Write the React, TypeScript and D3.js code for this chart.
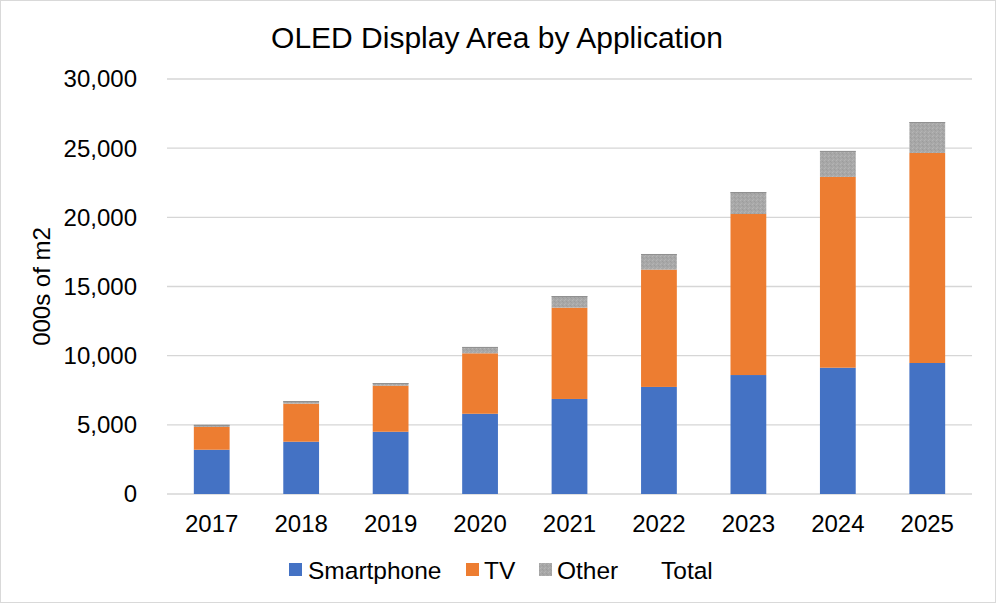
import React from "react";
import * as d3 from "d3";

const years = ["2017", "2018", "2019", "2020", "2021", "2022", "2023", "2024", "2025"];
const smartphone = [3200, 3780, 4500, 5800, 6870, 7740, 8600, 9130, 9470];
const tv = [1650, 2750, 3330, 4370, 6600, 8480, 11640, 13790, 15180];
const other = [150, 190, 190, 460, 840, 1130, 1590, 1880, 2240];
const yTicks = [0, 5000, 10000, 15000, 20000, 25000, 30000];
const seriesNames = ["Smartphone", "TV", "Other"];
const legendLabels = ["Smartphone", "TV", "Other", "Total"];

const W = 996;
const H = 604;
const FONT = "Arial, 'Liberation Sans', sans-serif";

export default function App() {
  const x = d3.scaleBand<string>().domain(years).range([167, 972]).paddingInner(0.6).paddingOuter(0.3);
  const y = d3.scaleLinear().domain([0, 30000]).range([494, 79]);
  const rows = years.map((yr, i) => ({ year: yr, Smartphone: smartphone[i], TV: tv[i], Other: other[i] }));
  const stacked = d3.stack<any>().keys(seriesNames)(rows);
  const colors: Record<string, string> = { Smartphone: "#4472c4", TV: "#ed7d31", Other: "url(#otherPat)" };
  const fmt = d3.format(",");

  const legendItems = [
    { label: legendLabels[0], sx: 289, tx: 308, fill: "#4472c4" },
    { label: legendLabels[1], sx: 466, tx: 484, fill: "#ed7d31" },
    { label: legendLabels[2], sx: 539, tx: 557, fill: "url(#otherPat)" },
    { label: legendLabels[3], sx: null, tx: 661, fill: null },
  ];

  return (
    <svg width={W} height={H} style={{ position: "absolute", left: 0, top: 0, background: "#fff" }} fontFamily={FONT}>
      <defs>
        <pattern id="otherPat" width="4" height="4" patternUnits="userSpaceOnUse">
          <rect width="4" height="4" fill="#a8a8a8" />
          <rect x="0" y="0" width="1" height="1" fill="#b6b6b6" />
          <rect x="2" y="1" width="1" height="1" fill="#9c9c9c" />
          <rect x="1" y="3" width="1" height="1" fill="#b3b3b3" />
          <rect x="3" y="2" width="1" height="1" fill="#9f9f9f" />
        </pattern>
      </defs>
      <rect x={0.5} y={0.5} width={995} height={602} fill="#fff" stroke="#d9d9d9" strokeWidth={1} />
      <text x={497} y={48} textAnchor="middle" fontSize={30} fill="#000">OLED Display Area by Application</text>
      {yTicks.map((t) => (
        <g key={t}>
          <line x1={167} x2={972} y1={y(t)} y2={y(t)} stroke="#d6d6d6" strokeWidth={1.4} />
          <text x={137} y={y(t)} dy="0.35em" textAnchor="end" fontSize={24} fill="#000">{fmt(t)}</text>
        </g>
      ))}
      {stacked.map((s) => (
        <g key={s.key}>
          {s.map((d, i) => (
            <g key={i}>
              <rect
                x={x(years[i])}
                y={y(d[1])}
                width={x.bandwidth()}
                height={y(d[0]) - y(d[1])}
                fill={colors[s.key]}
              />
              {s.key === "Other" && (
                <line x1={x(years[i])} x2={(x(years[i]) as number) + x.bandwidth()} y1={y(d[1]) + 0.5} y2={y(d[1]) + 0.5} stroke="#909090" strokeWidth={1} />
              )}
            </g>
          ))}
        </g>
      ))}
      {years.map((yr) => (
        <text key={yr} x={(x(yr) as number) + x.bandwidth() / 2} y={532} textAnchor="middle" fontSize={24} fill="#000">{yr}</text>
      ))}
      <text transform={`translate(50,286.5) rotate(-90)`} textAnchor="middle" fontSize={24} fill="#000">000s of m2</text>
      {legendItems.map((it) => (
        <g key={it.label}>
          {it.sx !== null && <rect x={it.sx} y={563} width={13} height={13} fill={it.fill as string} />}
          <text x={it.tx} y={579} fontSize={24.5} fill="#000">{it.label}</text>
        </g>
      ))}
    </svg>
  );
}
